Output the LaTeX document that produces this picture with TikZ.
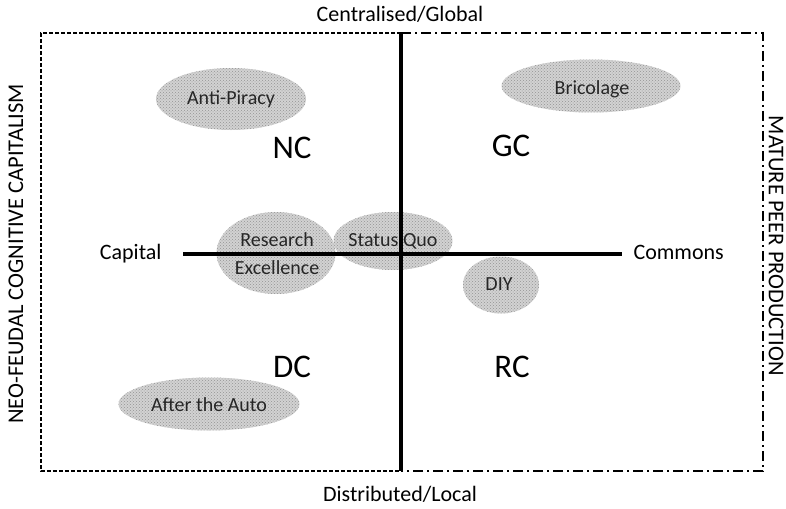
\documentclass[tikz,border=0pt]{standalone}
\usepackage{fontspec}
\setmainfont{Carlito}
\usetikzlibrary{shapes.geometric,patterns}
\begin{document}
\begin{tikzpicture}[x=1pt,y=-1pt,
  blob/.style={ellipse,preaction={fill=gray!35},pattern=crosshatch dots,
    pattern color=gray!85,draw=none,inner sep=0pt},
  blobtext/.style={anchor=base,inner sep=0pt,font=\fontsize{20}{24}\selectfont,text=black!85},
  quad/.style={font=\fontsize{33}{36}\selectfont},
  axislabel/.style={font=\fontsize{22}{24}\selectfont},
  sidelabel/.style={font=\fontsize{22.5}{24}\selectfont},
  axis/.style={line width=3.2pt},
  leftframe/.style={line width=1.4pt,dash pattern=on 4pt off 2pt},
  rightframe/.style={line width=1.4pt,dash pattern=on 10pt off 4pt on 2pt off 4pt}]
\useasboundingbox (0,0) rectangle (786,508);
\fill[white] (0,0) rectangle (786,508);

% the two halves of the map
\draw[leftframe] (401,33) -- (41,33) -- (41,471) -- (401,471);
\draw[rightframe] (401,33) -- (763,33) -- (763,471) -- (401,471);

% clusters of scenarios
\node[blob,minimum width=150pt,minimum height=62pt] (antipiracy) at (231,99) {};
\node[blob,minimum width=179pt,minimum height=53pt] (bricolage) at (591,86) {};
\node[blob,minimum width=119pt,minimum height=82pt] (research) at (276,253) {};
\node[blob,minimum width=119pt,minimum height=58pt] (statusquo) at (393,241) {};
\node[blob,minimum width=76pt,minimum height=57pt] (diy) at (501,285) {};
\node[blob,minimum width=181pt,minimum height=53pt] (auto) at (209,404) {};

\node[blobtext] (antipiracyT) at (231,105) {Anti-Piracy};
\node[blobtext] (bricolageT) at (592,94.5) {Bricolage};
\node[blobtext] (researchT) at (277,246.5) {Research};
\node[blobtext] (excellenceT) at (277,274.5) {Excellence};
\node[blobtext] (statusquoT) at (393,246.5) {Status Quo};
\node[blobtext] (diyT) at (499,290.5) {DIY};
\node[blobtext] (autoT) at (209,411.5) {After the Auto};

% quadrant names
\node[quad] (nc) at (292,148) {NC};
\node[quad] (gc) at (511,146) {GC};
\node[quad] (dc) at (292,367) {DC};
\node[quad] (rc) at (512,367) {RC};

% axes
\coordinate (ytop) at (401,33);
\coordinate (ybot) at (401,471);
\coordinate (xleft) at (183,254);
\coordinate (xright) at (622,254);
\draw[axis] (ytop) -- (ybot);
\draw[axis] (xleft) -- (xright);

% axis ends
\node[axislabel] (central) at (400,14) {Centralised/Global};
\node[axislabel] (distrib) at (400,494) {Distributed/Local};
\node[axislabel,anchor=east] (capital) at (165,254) {Capital};
\node[axislabel,anchor=west] (commons) at (630,252) {Commons};

% regimes at either side
\node[sidelabel,rotate=90] (neofeudal) at (16,254) {NEO-FEUDAL COGNITIVE CAPITALISM};
\node[sidelabel,rotate=-90] (mature) at (776,246) {MATURE PEER PRODUCTION};
\end{tikzpicture}
\end{document}
